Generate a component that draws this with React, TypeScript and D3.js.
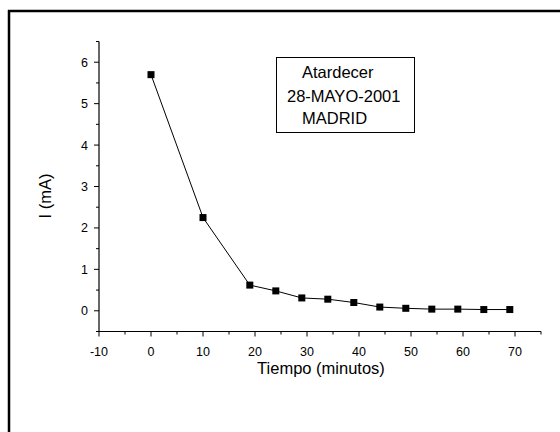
import React from "react";
import * as d3 from "d3";

const times = [0, 10, 19, 24, 29, 34, 39, 44, 49, 54, 59, 64, 69];
const current = [5.7, 2.25, 0.62, 0.48, 0.31, 0.28, 0.2, 0.09, 0.06, 0.04, 0.04, 0.03, 0.03];
const xTicks = [-10, 0, 10, 20, 30, 40, 50, 60, 70];
const xMinor = [-5, 5, 15, 25, 35, 45, 55, 65, 75];
const yTicks = [0, 1, 2, 3, 4, 5, 6];
const yMinor = [-0.5, 0.5, 1.5, 2.5, 3.5, 4.5, 5.5, 6.5];
const legendLines = ["Atardecer", "28-MAYO-2001", "MADRID"];

const FONT = "Arial, 'Liberation Sans', Helvetica, sans-serif";

export default function App() {
  const x = d3.scaleLinear().domain([-10, 75]).range([99, 541]);
  const y = d3.scaleLinear().domain([-0.5, 6.5]).range([331.5, 41.5]);
  const line = d3
    .line<number>()
    .x((_, i) => x(times[i]))
    .y((d) => y(d));
  const x0 = x(-10);
  const y0 = y(-0.5);
  const ms = 7;
  return (
    <svg
      width={560}
      height={432}
      style={{ position: "absolute", left: 0, top: 0, display: "block", background: "#fff" }}
    >
      <rect x={0} y={0} width={560} height={432} fill="#fff" />
      {/* outer frame */}
      <line x1={9} y1={10} x2={9} y2={432} stroke="#000" strokeWidth={2.5} />
      <line x1={8} y1={11} x2={560} y2={11} stroke="#000" strokeWidth={2.5} />

      {/* axes */}
      <line x1={x0} y1={y(6.5)} x2={x0} y2={y0} stroke="#000" strokeWidth={1.2} />
      <line x1={x0} y1={y0} x2={x(75)} y2={y0} stroke="#000" strokeWidth={1.2} />
      {xTicks.map((t) => (
        <g key={"xt" + t}>
          <line x1={x(t)} x2={x(t)} y1={y0} y2={y0 + 5} stroke="#000" strokeWidth={1} />
          <text x={x(t)} y={y0 + 24} textAnchor="middle" fontFamily={FONT} fontSize={12.5} fill="#000">
            {t}
          </text>
        </g>
      ))}
      {xMinor.map((t) => (
        <line key={"xm" + t} x1={x(t)} x2={x(t)} y1={y0} y2={y0 + 3} stroke="#000" strokeWidth={1} />
      ))}
      {yTicks.map((t) => (
        <g key={"yt" + t}>
          <line x1={x0 - 5} x2={x0} y1={y(t)} y2={y(t)} stroke="#000" strokeWidth={1} />
          <text x={x0 - 11} y={y(t) + 4.5} textAnchor="end" fontFamily={FONT} fontSize={12.5} fill="#000">
            {t}
          </text>
        </g>
      ))}
      {yMinor.map((t) => (
        <line key={"ym" + t} x1={x0 - 3} x2={x0} y1={y(t)} y2={y(t)} stroke="#000" strokeWidth={1} />
      ))}

      {/* axis titles */}
      <text x={321} y={374} textAnchor="middle" fontFamily={FONT} fontSize={16.5} fill="#000">
        Tiempo (minutos)
      </text>
      <text
        transform={`translate(51, 196) rotate(-90)`}
        textAnchor="middle"
        fontFamily={FONT}
        fontSize={16.5}
        fill="#000"
      >
        I (mA)
      </text>

      {/* data */}
      <path d={line(current) || ""} fill="none" stroke="#000" strokeWidth={1} />
      {current.map((v, i) => (
        <rect
          key={"p" + i}
          x={x(times[i]) - ms / 2}
          y={y(v) - ms / 2}
          width={ms}
          height={ms}
          fill="#000"
        />
      ))}

      {/* legend box */}
      <rect x={276.5} y={57.5} width={138} height={75} fill="#fff" stroke="#000" strokeWidth={1} />
      <text x={302} y={78} fontFamily={FONT} fontSize={16.5} fill="#000">
        {legendLines[0]}
      </text>
      <text x={287} y={102} fontFamily={FONT} fontSize={16.5} fill="#000">
        {legendLines[1]}
      </text>
      <text x={302} y={124} fontFamily={FONT} fontSize={16.5} fill="#000">
        {legendLines[2]}
      </text>
    </svg>
  );
}
